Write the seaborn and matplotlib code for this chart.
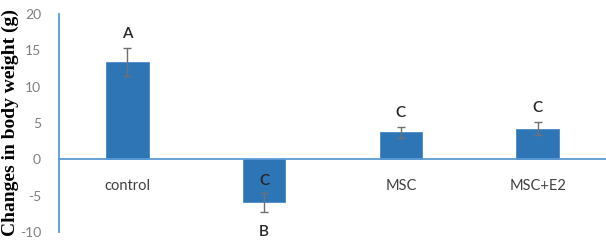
import matplotlib
matplotlib.use("Agg")
import matplotlib.pyplot as plt
import seaborn as sns
import pandas as pd
import numpy as np

# Data
groups = ["control", "hidden", "MSC", "MSC+E2"]
tick_labels = ["control", "", "MSC", "MSC+E2"]
changes = [13.4, -5.9, 3.7, 4.2]
errors = [1.9, 1.3, 0.75, 0.9]
letters = ["A", "B", "C", "C"]
inner_letters = ["", "C", "", ""]
y_ticks = [-10, -5, 0, 5, 10, 15, 20]

sns.set_theme(style="white")
plt.rcParams["font.family"] = ["Lato", "DejaVu Sans"]

df = pd.DataFrame({"group": groups, "change": changes})

fig = plt.figure(figsize=(6.06, 2.46), dpi=100)
ax = fig.add_axes([59 / 606, 14 / 246, 547 / 606, 218 / 246])

bar_color = "#2E75B6"
axis_color = "#5B9BD5"

sns.barplot(data=df, x="group", y="change", color=bar_color, width=0.31,
            saturation=1, errorbar=None, ax=ax, edgecolor="#4A89C8", linewidth=0.6)

xs = np.arange(len(groups))
ax.errorbar(xs, changes, yerr=errors, fmt="none", ecolor="#707070",
            elinewidth=1.0, capsize=3, capthick=1.0, zorder=5)

ax.set_xlim(-0.5, 3.5)
ax.set_ylim(-10, 20)
ax.set_yticks(y_ticks)
ax.set_yticklabels([str(t) for t in y_ticks], color="#7F7F7F", fontsize=10)
ax.tick_params(axis="y", length=0, pad=13)

ax.spines["bottom"].set_position(("data", 0))
ax.spines["bottom"].set_color(axis_color)
ax.spines["bottom"].set_linewidth(1.3)
ax.spines["left"].set_color(axis_color)
ax.spines["left"].set_linewidth(1.3)
ax.spines["top"].set_visible(False)
ax.spines["right"].set_visible(False)

ax.set_xticks(xs)
ax.set_xticklabels(tick_labels, color="#404040", fontsize=10.5)
ax.tick_params(axis="x", length=0, pad=14)
ax.set_xlabel("")

ax.set_ylabel("Changes in body weight (g)", family=["Liberation Serif"],
              fontweight="bold", fontsize=14, color="black")
ax.yaxis.set_label_coords(-0.073, 0.5)

for i, (v, e, l) in enumerate(zip(changes, errors, letters)):
    if v >= 0:
        ax.text(i, v + e + 1.0, l, ha="center", va="bottom", fontsize=11,
                color="#262626", fontweight="semibold")
    else:
        ax.text(i, v - e - 1.9, l, ha="center", va="top", fontsize=11,
                color="#262626", fontweight="semibold", clip_on=False)
for i, l in enumerate(inner_letters):
    if l:
        ax.text(i, -3.0, l, ha="center", va="center", fontsize=11,
                color="#262626", fontweight="semibold")

fig.savefig("out.png", dpi=100)
